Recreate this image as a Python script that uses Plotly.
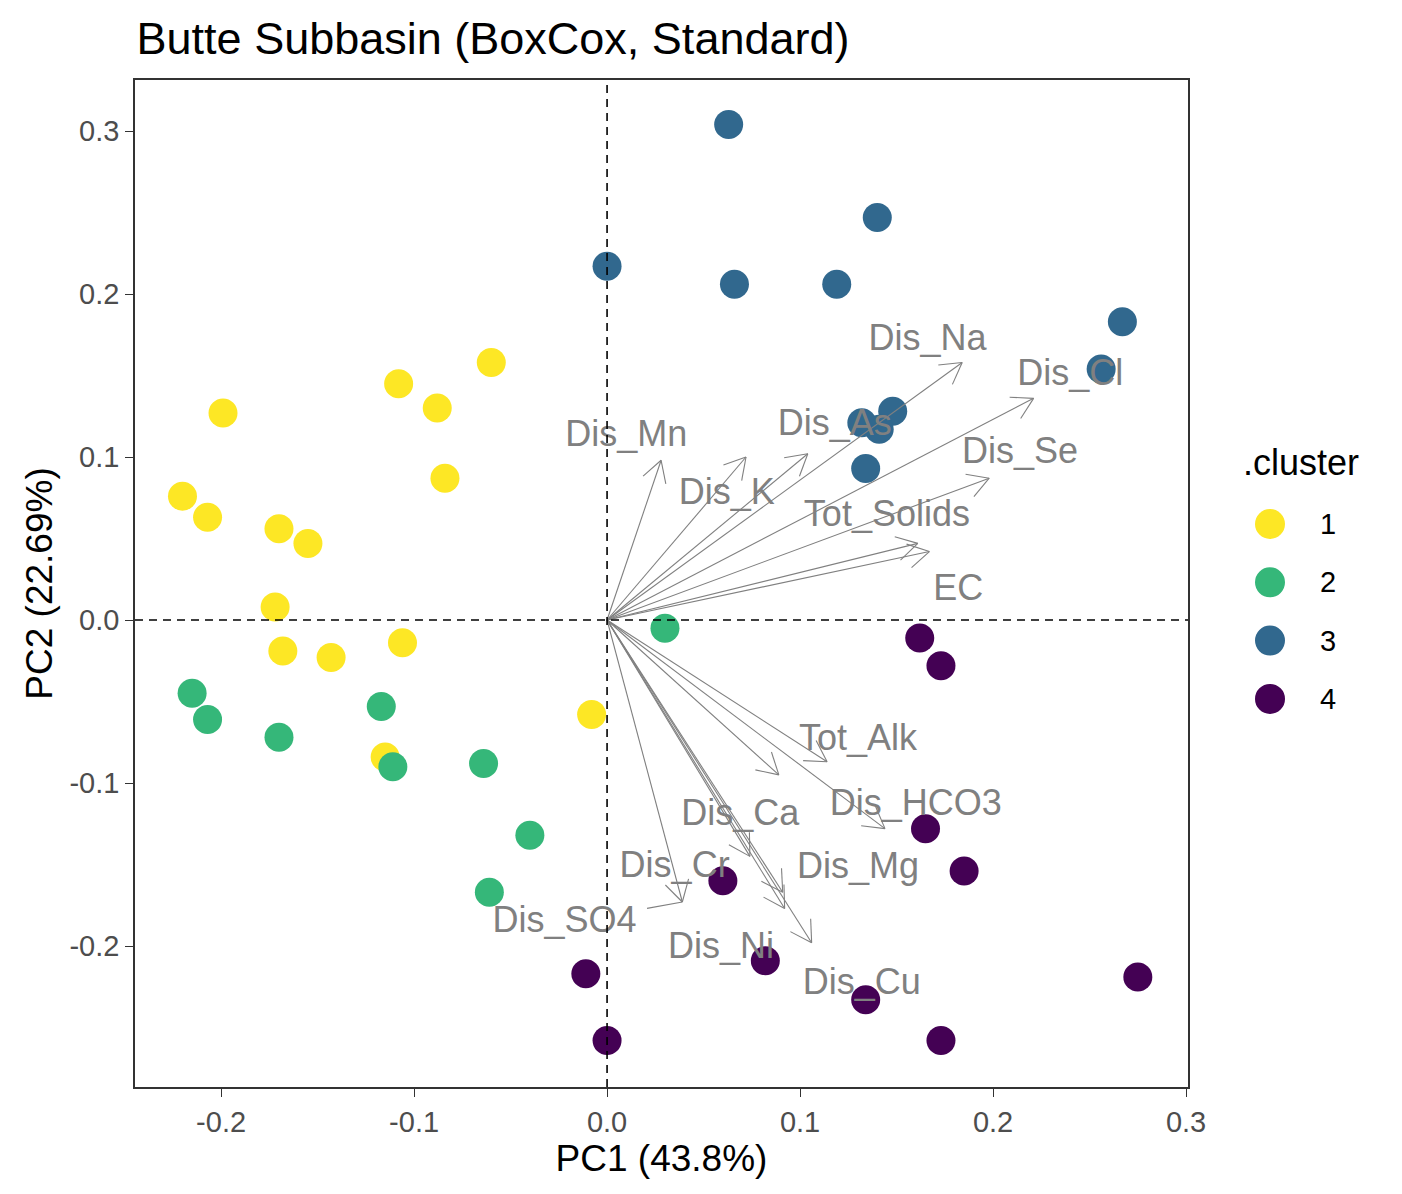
import numpy as np
import plotly.graph_objects as go

# ---------------- data ----------------
cluster_labels = ["1", "2", "3", "4"]
cluster_colors = ["#FDE725", "#35B779", "#31688E", "#440154"]

pc1_c1 = [-0.199, -0.220, -0.207, -0.170, -0.155, -0.108, -0.088, -0.060, -0.084,
          -0.172, -0.168, -0.143, -0.106, -0.008, -0.115]
pc2_c1 = [0.127, 0.076, 0.063, 0.056, 0.047, 0.145, 0.130, 0.158, 0.087,
          0.008, -0.019, -0.023, -0.014, -0.058, -0.084]

pc1_c2 = [-0.215, -0.207, -0.170, -0.117, -0.111, -0.064, -0.040, -0.061, 0.030]
pc2_c2 = [-0.045, -0.061, -0.072, -0.053, -0.090, -0.088, -0.132, -0.167, -0.005]

pc1_c3 = [0.063, 0.140, 0.000, 0.066, 0.119, 0.267, 0.256, 0.148, 0.141, 0.132, 0.134]
pc2_c3 = [0.304, 0.247, 0.217, 0.206, 0.206, 0.183, 0.154, 0.128, 0.117, 0.121, 0.093]

pc1_c4 = [0.162, 0.173, 0.165, 0.185, 0.060, 0.082, -0.011, 0.000, 0.134, 0.173, 0.275]
pc2_c4 = [-0.011, -0.028, -0.128, -0.154, -0.160, -0.209, -0.217, -0.258, -0.233, -0.258, -0.219]

var_names = ["Dis_Mn", "Dis_K", "Dis_As", "Dis_Na", "Dis_Cl", "Dis_Se", "Tot_Solids", "EC",
             "Tot_Alk", "Dis_Ca", "Dis_HCO3", "Dis_Cr", "Dis_Mg", "Dis_Ni", "Dis_Cu", "Dis_SO4"]
load_pc1 = [0.028, 0.072, 0.104, 0.184, 0.221, 0.198, 0.161, 0.167,
            0.114, 0.089, 0.144, 0.074, 0.091, 0.092, 0.106, 0.039]
load_pc2 = [0.098, 0.100, 0.102, 0.158, 0.136, 0.087, 0.047, 0.042,
            -0.087, -0.095, -0.128, -0.145, -0.167, -0.177, -0.198, -0.173]
label_pc1 = [0.010, 0.062, 0.118, 0.166, 0.240, 0.214, 0.145, 0.182,
             0.130, 0.069, 0.160, 0.035, 0.130, 0.059, 0.132, -0.022]
label_pc2 = [0.112, 0.077, 0.119, 0.171, 0.150, 0.102, 0.063, 0.018,
             -0.074, -0.120, -0.114, -0.152, -0.153, -0.202, -0.224, -0.186]
repelled = ["Dis_SO4"]

x_ticks = [-0.2, -0.1, 0.0, 0.1, 0.2, 0.3]
y_ticks = [-0.2, -0.1, 0.0, 0.1, 0.2, 0.3]

# ---------------- layout constants ----------------
W, H = 1402, 1194
M_L, M_R, M_T, M_B = 135, 214, 80, 107
PLOT_W = W - M_L - M_R
PLOT_H = H - M_T - M_B
X_RANGE = [-0.2446, 0.3010]
Y_RANGE = [-0.2865, 0.3313]
sx = PLOT_W / (X_RANGE[1] - X_RANGE[0])
sy = PLOT_H / (Y_RANGE[1] - Y_RANGE[0])
FONT = "Liberation Sans, Arial, sans-serif"
GREY = "#808080"

fig = go.Figure()

# points
groups = [(pc1_c1, pc2_c1), (pc1_c2, pc2_c2), (pc1_c3, pc2_c3), (pc1_c4, pc2_c4)]
for lab, col, (gx, gy) in zip(cluster_labels, cluster_colors, groups):
    fig.add_trace(go.Scatter(x=gx, y=gy, mode="markers", name=lab,
                             marker=dict(size=29, color=col, line=dict(width=0)),
                             showlegend=False))

# arrows (shafts + open heads computed in pixel space)
head_len = 24
ang = np.radians(30)
ax_, ay_ = [], []
for lx, ly in zip(load_pc1, load_pc2):
    ax_ += [0, lx, None]
    ay_ += [0, ly, None]
    dx, dy = lx * sx, ly * sy
    n = np.hypot(dx, dy)
    ux, uy = -dx / n, -dy / n
    for a in (ang, -ang):
        rx = ux * np.cos(a) - uy * np.sin(a)
        ry = ux * np.sin(a) + uy * np.cos(a)
        ax_ += [lx + rx * head_len / sx, lx, None]
        ay_ += [ly + ry * head_len / sy, ly, None]
fig.add_trace(go.Scatter(x=ax_, y=ay_, mode="lines",
                         line=dict(color=GREY, width=1.1), showlegend=False,
                         hoverinfo="skip"))

# repel segments
sx_, sy_ = [], []
for nm, lx, ly, tx, ty in zip(var_names, load_pc1, load_pc2, label_pc1, label_pc2):
    if nm in repelled:
        sx_ += [lx + 0.3 * (tx - lx), lx, None]
        sy_ += [ly + 0.3 * (ty - ly), ly, None]
fig.add_trace(go.Scatter(x=sx_, y=sy_, mode="lines",
                         line=dict(color=GREY, width=1.1), showlegend=False,
                         hoverinfo="skip"))

# labels
fig.add_trace(go.Scatter(x=label_pc1, y=label_pc2, mode="text", text=var_names,
                         textposition="middle center",
                         textfont=dict(size=36, color=GREY, family=FONT),
                         showlegend=False, hoverinfo="skip"))

# dashed reference lines
fig.add_hline(y=0, line=dict(color="black", width=1.6, dash="8px,6px"), layer="above")
fig.add_vline(x=0, line=dict(color="black", width=1.6, dash="8px,6px"), layer="above")

# custom legend
def px_to_paper_x(px):
    return (px - M_L) / PLOT_W

def py_to_paper_y(py):
    return (H - M_B - py) / PLOT_H

fig.add_annotation(x=px_to_paper_x(1241), y=py_to_paper_y(462), xref="paper", yref="paper",
                   text=".cluster", showarrow=False, xanchor="left", yanchor="middle",
                   font=dict(size=36, color="black", family=FONT))
for i, (lab, col) in enumerate(zip(cluster_labels, cluster_colors)):
    cy = py_to_paper_y(524 + 58.3 * i)
    cx = px_to_paper_x(1270)
    fig.add_shape(type="circle", xref="paper", yref="paper",
                  xsizemode="pixel", ysizemode="pixel", xanchor=cx, yanchor=cy,
                  x0=-15, x1=15, y0=-15, y1=15,
                  fillcolor=col, line=dict(width=0))
    fig.add_annotation(x=px_to_paper_x(1318), y=cy, xref="paper", yref="paper",
                       text=lab, showarrow=False, xanchor="left", yanchor="middle",
                       font=dict(size=29, color="black", family=FONT))

axis_common = dict(showgrid=False, zeroline=False, showline=True, mirror=True,
                   linecolor="#333333", linewidth=1.5, ticks="outside", ticklen=8,
                   tickcolor="#333333", tickwidth=1.3,
                   tickfont=dict(size=29, color="#4D4D4D", family=FONT),
                   automargin=False)

fig.update_layout(
    width=W, height=H,
    margin=dict(l=M_L, r=M_R, t=M_T, b=M_B),
    plot_bgcolor="white", paper_bgcolor="white",
    font=dict(family=FONT),
    title=dict(text="Butte Subbasin (BoxCox, Standard)", x=0.0015, xref="paper",
               xanchor="left", y=1 - 38 / H, yref="container", yanchor="middle",
               font=dict(size=45, color="black", family=FONT)),
    xaxis=dict(range=X_RANGE, tickvals=x_ticks,
               ticktext=[f"{v:.1f}" for v in x_ticks],
               title=dict(text="PC1 (43.8%)", standoff=6,
                          font=dict(size=37, color="black", family=FONT)),
               **axis_common),
    yaxis=dict(range=Y_RANGE, tickvals=y_ticks,
               ticktext=[f"{v:.1f}" for v in y_ticks],
               title=dict(text="PC2 (22.69%)", standoff=6,
                          font=dict(size=37, color="black", family=FONT)),
               **axis_common),
    showlegend=False,
)

fig.write_html("out.html")
